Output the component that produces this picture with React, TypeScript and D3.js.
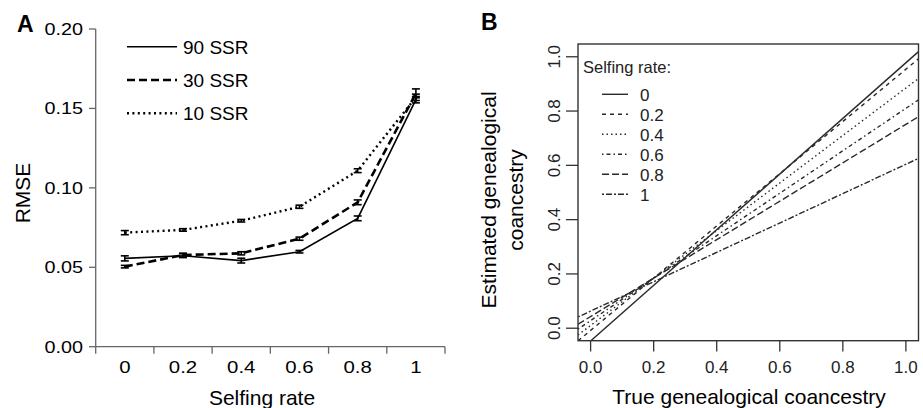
import React from "react";
import * as d3 from "d3";

// ---------- Panel A data ----------
const selfingRates = ["0", "0.2", "0.4", "0.6", "0.8", "1"];
const rmse90 = [0.0556, 0.0573, 0.0542, 0.0598, 0.0808, 0.1555];
const rmse30 = [0.0504, 0.0577, 0.0588, 0.068, 0.0909, 0.1595];
const rmse10 = [0.0718, 0.0735, 0.0793, 0.0881, 0.1108, 0.157];
const err90 = [0.0016, 0.0012, 0.0015, 0.0008, 0.0015, 0.002];
const err30 = [0.0008, 0.0012, 0.001, 0.001, 0.0015, 0.0028];
const err10 = [0.0013, 0.0008, 0.0008, 0.001, 0.0012, 0.002];
const rmseTicks = [0, 0.05, 0.1, 0.15, 0.2];
const seriesNamesA = ["90 SSR", "30 SSR", "10 SSR"];

// ---------- Panel B data ----------
const legendRatesB = ["0", "0.2", "0.4", "0.6", "0.8", "1"];
const interceptsB = [-0.047, -0.008, 0.01, 0.028, 0.043, 0.063];
const slopesB = [1.025, 0.962, 0.875, 0.782, 0.708, 0.541];
const ticksB = [0, 0.2, 0.4, 0.6, 0.8, 1.0];

const FONT = "'Liberation Sans', Arial, sans-serif";

export default function App() {
  // Panel A scales
  const xA = d3.scaleBand<string>().domain(selfingRates).range([95.7, 445]);
  const yA = d3.scaleLinear().domain([0, 0.2]).range([346.7, 29]);
  const cx = (c: string) => (xA(c) as number) + xA.bandwidth() / 2;
  const lineA = d3
    .line<number>()
    .x((_, i) => cx(selfingRates[i]))
    .y((d) => yA(d));

  const seriesA = [
    { name: seriesNamesA[0], vals: rmse90, errs: err90, dash: "", w: 1.6 },
    { name: seriesNamesA[1], vals: rmse30, errs: err30, dash: "8,4", w: 2.6 },
    { name: seriesNamesA[2], vals: rmse10, errs: err10, dash: "2,3.4", w: 2.4 },
  ];

  // Panel B scales
  const xB = d3.scaleLinear().domain([-0.04, 1.04]).range([578, 918.5]);
  const yB = d3.scaleLinear().domain([-0.046, 1.047]).range([340.7, 44]);
  const dashB = ["", "4,4", "1.5,3", "1.5,3,4,3", "7,3", "2,2,6,2"];

  const boundaries = [...selfingRates.map((c) => xA(c) as number), 445];

  return (
    <svg
      width={923}
      height={408}
      style={{ position: "absolute", left: 0, top: 0, background: "#fff" }}
      fontFamily={FONT}
    >
      <defs>
        <clipPath id="boxB">
          <rect x={578} y={44} width={340.5} height={296.7} />
        </clipPath>
      </defs>

      {/* ================= Panel A ================= */}
      <text x={17} y={32} fontSize={23} fontWeight="bold">A</text>

      {/* y axis */}
      <line x1={95.7} x2={95.7} y1={yA(0.2)} y2={yA(0)} stroke="#666" strokeWidth={1.3} />
      {rmseTicks.map((t) => (
        <g key={"ya" + t}>
          <line x1={89} x2={95.7} y1={yA(t)} y2={yA(t)} stroke="#666" strokeWidth={1.3} />
          <text
            transform={`translate(83,${yA(t) + 6}) scale(1.2,1)`}
            fontSize={16.5}
            textAnchor="end"
          >
            {t.toFixed(2)}
          </text>
        </g>
      ))}
      {/* x axis */}
      <line x1={95.7} x2={445} y1={yA(0)} y2={yA(0)} stroke="#666" strokeWidth={1.3} />
      {boundaries.map((b, i) => (
        <line key={"xb" + i} x1={b} x2={b} y1={yA(0)} y2={yA(0) + 7} stroke="#666" strokeWidth={1.3} />
      ))}
      {selfingRates.map((c) => (
        <text
          key={"xl" + c}
          transform={`translate(${cx(c)},373) scale(1.2,1)`}
          fontSize={17}
          textAnchor="middle"
        >
          {c}
        </text>
      ))}
      <text x={262} y={405} fontSize={21} textAnchor="middle">Selfing rate</text>
      <text transform="translate(30,193) rotate(-90)" fontSize={21} textAnchor="middle">RMSE</text>

      {/* series */}
      {seriesA.map((s) => (
        <g key={s.name}>
          <path
            d={lineA(s.vals) as string}
            fill="none"
            stroke="#000"
            strokeWidth={s.w}
            strokeDasharray={s.dash}
          />
          {s.vals.map((v, i) => {
            const x = cx(selfingRates[i]);
            const y1 = yA(v - s.errs[i]);
            const y2 = yA(v + s.errs[i]);
            return (
              <g key={i} stroke="#000" strokeWidth={1.6}>
                <line x1={x} x2={x} y1={y1} y2={y2} />
                <line x1={x - 4} x2={x + 4} y1={y1} y2={y1} />
                <line x1={x - 4} x2={x + 4} y1={y2} y2={y2} />
              </g>
            );
          })}
        </g>
      ))}

      {/* legend A */}
      {seriesA.map((s, i) => (
        <g key={"lg" + s.name}>
          <line
            x1={127}
            x2={177}
            y1={46.7 + i * 33.3}
            y2={46.7 + i * 33.3}
            stroke="#000"
            strokeWidth={s.w}
            strokeDasharray={s.dash}
          />
          <text x={183} y={53.5 + i * 33.3} fontSize={19}>{s.name}</text>
        </g>
      ))}

      {/* ================= Panel B ================= */}
      <text x={481} y={30} fontSize={23} fontWeight="bold">B</text>

      <g clipPath="url(#boxB)">
        {interceptsB.map((a, i) => {
          const xs = [-0.04, 1.04];
          return (
            <line
              key={"lb" + i}
              x1={xB(xs[0])}
              y1={yB(a + slopesB[i] * xs[0])}
              x2={xB(xs[1])}
              y2={yB(a + slopesB[i] * xs[1])}
              stroke="#2a2a2a"
              strokeWidth={1.4}
              strokeDasharray={dashB[i]}
            />
          );
        })}
      </g>
      <rect x={578} y={44} width={340.5} height={296.7} fill="none" stroke="#333" strokeWidth={1.4} />

      {/* x ticks */}
      {ticksB.map((t) => (
        <g key={"xt" + t}>
          <line x1={xB(t)} x2={xB(t)} y1={340.7} y2={351.5} stroke="#333" strokeWidth={1.3} />
          <text x={xB(t)} y={373} fontSize={17} textAnchor="middle" fill="#222">
            {t.toFixed(1)}
          </text>
        </g>
      ))}
      {/* y ticks */}
      {ticksB.map((t) => (
        <g key={"yt" + t}>
          <line x1={566} x2={578} y1={yB(t)} y2={yB(t)} stroke="#333" strokeWidth={1.3} />
          <text
            transform={`translate(560,${yB(t)}) rotate(-90)`}
            fontSize={17}
            textAnchor="middle"
            fill="#222"
          >
            {t.toFixed(1)}
          </text>
        </g>
      ))}
      <text x={749} y={404} fontSize={21} textAnchor="middle">True genealogical coancestry</text>
      <text transform="translate(496,200) rotate(-90)" fontSize={21} textAnchor="middle">
        Estimated genealogical
      </text>
      <text transform="translate(523,200) rotate(-90)" fontSize={21} textAnchor="middle">
        coancestry
      </text>

      {/* legend B */}
      <text x={583} y={73} fontSize={16.5} fill="#222">Selfing rate:</text>
      {legendRatesB.map((r, i) => (
        <g key={"lgb" + r}>
          <line
            x1={602}
            x2={628}
            y1={94.3 + i * 20}
            y2={94.3 + i * 20}
            stroke="#2a2a2a"
            strokeWidth={1.4}
            strokeDasharray={dashB[i]}
          />
          <text x={640} y={100.5 + i * 20} fontSize={17} fill="#222">{r}</text>
        </g>
      ))}
    </svg>
  );
}
